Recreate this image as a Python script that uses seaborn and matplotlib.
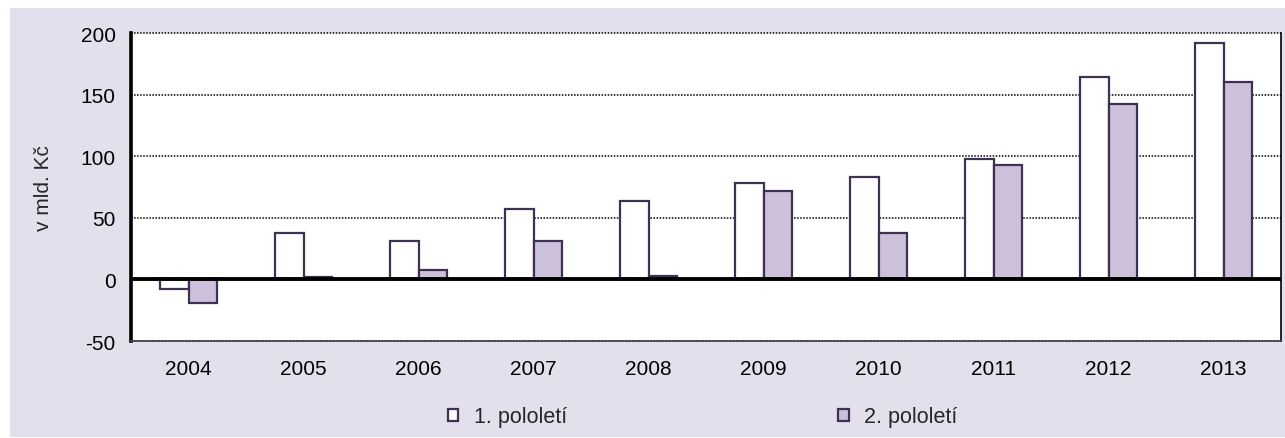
import matplotlib
matplotlib.use("Agg")
import matplotlib.pyplot as plt
import seaborn as sns
import pandas as pd
from matplotlib.patches import Patch, Rectangle

years = ["2004", "2005", "2006", "2007", "2008", "2009", "2010", "2011", "2012", "2013"]
first_half = [-8, 38, 31, 57, 64, 78, 83, 98, 164, 192]
second_half = [-19, 2, 8, 31, 3, 72, 38, 93, 142, 160]
series = ["1. pololetí", "2. pololetí"]

colors = {"1. pololetí": "#FFFFFF", "2. pololetí": "#CCC0DA"}
edge = "#3F3151"
bg = "#E4DFEC"

df = pd.DataFrame({
    "rok": years * 2,
    "hodnota": first_half + second_half,
    "serie": [series[0]] * len(years) + [series[1]] * len(years),
})

sns.set_style("white")
plt.rcParams["font.family"] = ["Liberation Sans", "DejaVu Sans"]
plt.rcParams["axes.unicode_minus"] = False

fig = plt.figure(figsize=(12.85, 4.39), dpi=100)
fig.patches.append(Rectangle((10 / 1285, 1 / 439), 1275 / 1285, 429 / 439,
                             transform=fig.transFigure, facecolor=bg,
                             edgecolor="none", zorder=-10))
ax = fig.add_axes([131 / 1285, 1 - 342 / 439, 1150 / 1285, 308 / 439])
ax.set_facecolor("white")

sns.barplot(data=df, x="rok", y="hodnota", hue="serie", palette=colors,
            saturation=1, width=0.49, edgecolor=edge, linewidth=1.6,
            legend=False, ax=ax, zorder=3)

ax.set_ylim(-50, 200)
ax.set_yticks([-50, 0, 50, 100, 150, 200])
ax.set_xlim(-0.5, len(years) - 0.5)
ax.yaxis.grid(True, linestyle=(0, (1, 1)), color="black", linewidth=1.1, zorder=1)
ax.set_axisbelow(True)
for gl in ax.get_ygridlines():
    gl.set_clip_on(False)
ax.axhline(0, color="black", linewidth=2.8, zorder=4)

ax.spines["left"].set_linewidth(2.6)
ax.spines["left"].set_color("black")
ax.spines["right"].set_linewidth(1.2)
ax.spines["right"].set_color("black")
ax.spines["top"].set_visible(False)
ax.spines["bottom"].set_linestyle((0, (1, 1)))
ax.spines["bottom"].set_color("#444444")
ax.spines["bottom"].set_linewidth(1.2)

ax.tick_params(axis="both", length=0, labelsize=15, colors="black")
ax.tick_params(axis="y", pad=11)
ax.tick_params(axis="x", pad=13)
ax.set_xlabel("")
ax.set_ylabel("v mld. Kč", fontsize=15)
ax.yaxis.set_label_coords(-0.068, 0.5)

handles = [Patch(facecolor=colors[s], edgecolor=edge, linewidth=1.6) for s in series]
fig.legend(handles, series, loc="center left", bbox_to_anchor=(448 / 1285, 1 - 418 / 439),
           ncol=2, frameon=False, fontsize=15.5, handlelength=0.48, handleheight=0.48,
           handletextpad=0.72, columnspacing=12.6, borderpad=0, borderaxespad=0)

fig.savefig("out.png", dpi=100, facecolor="white")
